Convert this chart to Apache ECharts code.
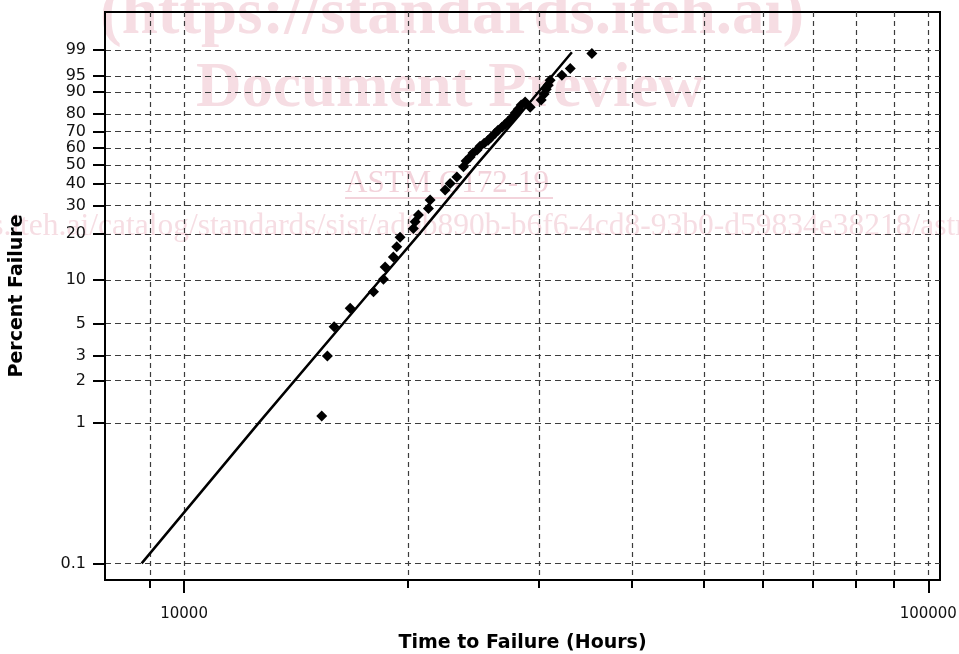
<!DOCTYPE html>
<html>
<head>
<meta charset="utf-8">
<script src="https://cdn.jsdelivr.net/npm/echarts@6/dist/echarts.min.js"></script>
<style>
  html, body { margin: 0; padding: 0; background: #fff; }
  #chart { width: 959px; height: 654px; }
</style>
</head>
<body>
<div id="chart"></div>
<script>
// observed failures: time (hours) and plotted percent failure
const failHours = [15310, 15580, 15910, 16720, 17970, 18530, 18630, 19110, 19310, 19510,
  20330, 20440, 20650, 21300, 21410, 22430, 22780, 23260, 23740, 23930,
  24230, 24450, 24760, 24990, 25310, 25620, 25860, 26180, 26420, 26750,
  27010, 27260, 27600, 27860, 28120, 28380, 28730, 29180, 30190, 30470,
  30670, 30860, 31040, 32190, 33030, 35320];
const failPercent = [1.12, 2.97, 4.75, 6.4, 8.3, 10.1, 12.2, 14.2, 16.6, 19.1,
  21.7, 23.9, 26.3, 28.8, 32.3, 36.9, 40.1, 43.5, 49.0, 52.3,
  54.7, 57.0, 58.8, 61.2, 63.0, 64.8, 66.6, 69.0, 70.8, 72.6,
  74.3, 76.0, 78.2, 80.4, 82.4, 84.4, 85.8, 83.3, 86.7, 89.2,
  91.0, 92.4, 93.9, 95.2, 96.6, 98.7];

// fitted line
const fitHours = [8770, 12600, 18350, 20700, 24700, 28300, 33200];
const fitPercent = [0.1, 1, 10, 20, 50, 80, 98.8];

// axes
const percentTicks = [0.1, 1, 2, 3, 5, 10, 20, 30, 40, 50, 60, 70, 80, 90, 95, 99];
const hourTicks = [9000, 10000, 20000, 30000, 40000, 50000, 60000, 70000, 80000, 90000, 100000];
const hourLabels = [10000, 100000];
const hourRange = [7830, 103700];
const percentRange = [0.0761, 99.981];

// weibull paper: y = ln(-ln(1-F)), x = log10(t)
function weib(p) { return Math.log(-Math.log(1 - p / 100)); }
function lg(h) { return Math.log10(h); }

const scatterData = failHours.map((h, i) => [lg(h), weib(failPercent[i])]);
const lineData = fitHours.map((h, i) => [lg(h), weib(fitPercent[i])]);

const font = 'DejaVu Sans, Verdana, sans-serif';
const gridDash = { color: '#3c3c3c', width: 1.2 };
const wmColor = '#f6dde3';

var myChart = echarts.init(document.getElementById('chart'), null, { renderer: 'canvas' });
const option = {
  animation: false,
  backgroundColor: '#fff',
  grid: {
    left: 105, right: 19, top: 12, bottom: 74,
    outerBoundsMode: 'none',
    show: true, borderColor: '#000', borderWidth: 2, backgroundColor: 'transparent'
  },
  xAxis: [
    {
      type: 'value',
      min: lg(hourRange[0]),
      max: lg(hourRange[1]),
      axisLine: { onZero: false, lineStyle: { color: '#000', width: 2 } },
      axisTick: { customValues: hourTicks.map(lg), length: 8, lineStyle: { color: '#000', width: 2 } },
      axisLabel: { show: false },
      splitLine: { show: true, lineStyle: Object.assign({ type: [5, 4] }, gridDash) }
    },
    {
      type: 'value',
      position: 'bottom',
      min: lg(hourRange[0]),
      max: lg(hourRange[1]),
      axisLine: { show: false, onZero: false },
      axisTick: { customValues: hourLabels.map(lg), length: 13, lineStyle: { color: '#000', width: 2 } },
      axisLabel: {
        customValues: hourLabels.map(lg),
        margin: 27,
        fontFamily: font, fontSize: 15, color: '#111',
        formatter: v => String(Math.round(Math.pow(10, v)))
      },
      splitLine: { show: false },
      name: 'Time to Failure (Hours)',
      nameLocation: 'middle',
      nameGap: 54,
      nameTextStyle: { fontFamily: font, fontSize: 19, fontWeight: 'bold', color: '#000' }
    }
  ],
  yAxis: {
    type: 'value',
    min: weib(percentRange[0]),
    max: weib(percentRange[1]),
    axisLine: { show: true, lineStyle: { color: '#000', width: 2 } },
    axisTick: { show: true, customValues: percentTicks.map(weib), length: 12, lineStyle: { color: '#000', width: 2 } },
    axisLabel: {
      customValues: percentTicks.map(weib),
      margin: 19,
      fontFamily: font, fontSize: 16, color: '#111',
      formatter: v => {
        const p = Math.round((1 - Math.exp(-Math.exp(v))) * 1000) / 10;
        return p < 1 ? p.toFixed(1) : String(Math.round(p));
      }
    },
    splitLine: { show: true, lineStyle: Object.assign({ type: [6, 4] }, gridDash) },
    name: 'Percent Failure',
    nameLocation: 'middle',
    nameGap: 78,
    nameTextStyle: { fontFamily: font, fontSize: 19, fontWeight: 'bold', color: '#000' }
  },
  // document preview watermark behind the plot
  graphic: [
    { type: 'text', z: -1, left: 100, top: -16, style: { text: '(https://standards.iteh.ai)', font: 'bold 65px "Liberation Serif", serif', fill: wmColor } },
    { type: 'text', z: -1, left: 196, top: 58, style: { text: 'Document Preview', font: 'bold 63px "Liberation Serif", serif', fill: wmColor } },
    { type: 'text', z: -1, left: 345, top: 168, style: { text: 'ASTM G172-19', font: '31px "Liberation Serif", serif', fill: '#f3d3db' } },
    { type: 'rect', z: -1, shape: { x: 345, y: 197, width: 208, height: 2 }, style: { fill: '#f3d3db' } },
    { type: 'text', z: -1, left: -203, top: 211, style: { text: 'https://standards.iteh.ai/catalog/standards/sist/ad0b890b-b6f6-4cd8-93b0-d59834e38218/astm-g172-19', font: '31.5px "Liberation Serif", serif', fill: wmColor } }
  ],
  series: [
    {
      type: 'line',
      xAxisIndex: 0,
      data: lineData,
      showSymbol: false,
      lineStyle: { color: '#000', width: 2.5 },
      z: 3
    },
    {
      type: 'scatter',
      xAxisIndex: 0,
      data: scatterData,
      symbol: 'diamond',
      symbolSize: [11, 11],
      itemStyle: { color: '#000', opacity: 1 },
      z: 4
    }
  ]
};
myChart.setOption(option);
</script>
</body>
</html>
